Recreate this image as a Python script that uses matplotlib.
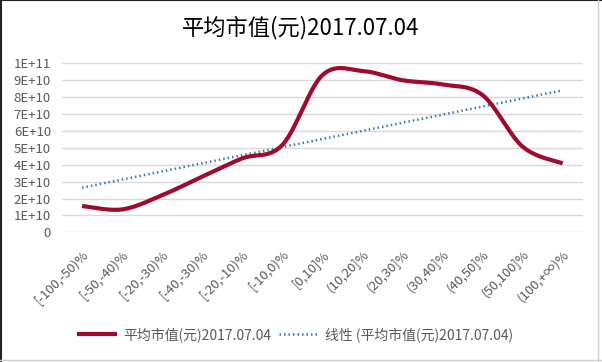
import numpy as np
import matplotlib
matplotlib.use("Agg")
import matplotlib.pyplot as plt
from matplotlib.lines import Line2D

plt.rcParams['font.family'] = ['Noto Sans CJK SC', 'DejaVu Sans']

categories = ["[-100,-50)%", "[-50,-40)%", "[-20,-30)%", "[-40,-30)%", "[-20,-10)%",
              "[-10,0)%", "[0,10]%", "(10,20]%", "(20,30]%", "(30,40]%",
              "(40,50]%", "(50,100]%", "(100,+∞)%"]
values = [1.56e10, 1.36e10, 2.2e10, 3.3e10, 4.38e10, 5.17e10, 9.3e10,
          9.55e10, 9.0e10, 8.75e10, 8.12e10, 5.07e10, 4.08e10]
yticks = [0, 1e10, 2e10, 3e10, 4e10, 5e10, 6e10, 7e10, 8e10, 9e10, 1e11]
ytick_labels = ["0", "1E+10", "2E+10", "3E+10", "4E+10", "5E+10",
                "6E+10", "7E+10", "8E+10", "9E+10", "1E+11"]
series_name = "平均市值(元)2017.07.04"


def smooth(xs, ys, n=30):
	# bezier through points, control points like excel smoothed line
	xs = np.asarray(xs, float)
	ys = np.asarray(ys, float)
	px = np.concatenate([[xs[0]], xs, [xs[-1]]])
	py = np.concatenate([[ys[0]], ys, [ys[-1]]])
	outx, outy = [], []
	t = np.linspace(0, 1, n)
	for i in range(1, len(px) - 2):
		p0 = np.array([px[i], py[i]])
		p3 = np.array([px[i + 1], py[i + 1]])
		p1 = p0 + (np.array([px[i + 1], py[i + 1]]) - np.array([px[i - 1], py[i - 1]])) / 6
		p2 = p3 - (np.array([px[i + 2], py[i + 2]]) - np.array([px[i], py[i]])) / 6
		b = ((1 - t) ** 3)[:, None] * p0 + (3 * (1 - t) ** 2 * t)[:, None] * p1 \
			+ (3 * (1 - t) * t ** 2)[:, None] * p2 + (t ** 3)[:, None] * p3
		outx.extend(b[:, 0])
		outy.extend(b[:, 1])
	return outx, outy


x = np.arange(len(categories))
sx, sy = smooth(x, values)
k, b = np.polyfit(x, values, 1)

fig = plt.figure(figsize=(6.02, 3.62), dpi=100)
ax = fig.add_axes([0.103, 0.358, 0.865, 0.467])

ax.plot(sx, sy, color="#9E0B2F", lw=3, solid_capstyle="butt", label=series_name, zorder=3)
ax.plot([x[0], x[-1]], [k * x[0] + b, k * x[-1] + b], color="#3E75B0", lw=1.8,
        linestyle=(0, (0.6, 1.2)), label="线性 (" + series_name + ")", zorder=2)

ax.set_xlim(-0.5, len(categories) - 0.5)
ax.set_ylim(0, 1e11)
ax.set_yticks(yticks)
ax.set_yticklabels(ytick_labels)
ax.set_xticks(x)
ax.set_xticklabels(categories, rotation=45, ha="right", rotation_mode="anchor")
ax.tick_params(length=0, labelsize=9.5, colors="#595959")
ax.tick_params(axis="x", pad=11)
ax.tick_params(axis="y", pad=8)
ax.grid(axis="y", color="#D9D9D9", lw=1)
ax.set_axisbelow(True)
for s in ax.spines.values():
	s.set_visible(False)

fig.text(0.5, 0.925, series_name, ha="center", va="center", fontsize=16, color="#000000")

leg = fig.legend(loc="center", bbox_to_anchor=(0.49, 0.075), ncol=2, frameon=False,
                 fontsize=10, handlelength=2.9, columnspacing=0.6, handletextpad=0.4)
for t in leg.get_texts():
	t.set_color("#595959")

# chart border
fig.add_artist(Line2D([0.001, 0.001], [0, 1], color="#222222", lw=1.5))
fig.add_artist(Line2D([0, 1], [0.999, 0.999], color="#222222", lw=1.5))
fig.add_artist(Line2D([0.994, 0.994], [0, 1], color="#D0D0D0", lw=1))
fig.add_artist(Line2D([0, 1], [0.006, 0.006], color="#D0D0D0", lw=1))

fig.savefig("out.png", dpi=100)
